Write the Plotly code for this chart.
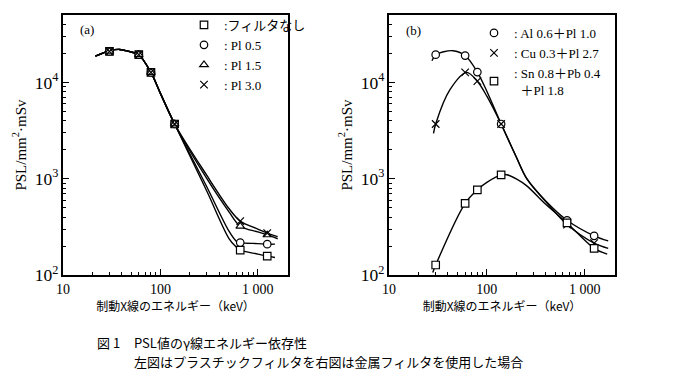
import plotly.graph_objects as go

W, H = 700, 388

# ---------------- Panel (a): plastic filters ----------------
a_energy = [30, 60, 80, 140, 660, 1250]
a_none = [21000, 19400, 12700, 3700, 181, 157]
a_pl05 = [21000, 19400, 12700, 3700, 217, 209]
a_pl15 = [21000, 19400, 12700, 3700, 321, 261]
a_pl30 = [21000, 19400, 12700, 3700, 363, 272]

# hand-drawn fitted curves
a_shared_ce = [21.5, 30, 38, 50, 60, 80, 100, 140]
a_shared_cv = [18700, 21300, 22000, 20700, 19400, 12700, 7700, 3700]
a_none_ce = [300, 506, 600, 660, 1000, 1250, 1500]
a_none_cv = [740, 239, 195, 181, 165, 157, 152]
a_pl05_ce = [300, 506, 600, 660, 1000, 1250, 1500]
a_pl05_cv = [820, 285, 225, 217, 212, 209, 209]
a_pl15_ce = [300, 506, 660, 1000, 1250, 1600]
a_pl15_cv = [1000, 453, 321, 280, 261, 238]
a_pl30_ce = [300, 506, 660, 1000, 1250, 1600]
a_pl30_cv = [1080, 490, 363, 300, 272, 250]

a_names = [":フィルタなし", ": Pl 0.5", ": Pl 1.5", ": Pl 3.0"]

# ---------------- Panel (b): metal filters ----------------
b_energy = [30, 60, 80, 140, 660, 1250]
b_al = [19400, 19000, 12800, 3700, 370, 255]
b_cu = [3700, 12700, 10300, 3700, 334, 214]
b_sn = [127, 555, 766, 1095, 347, 189]

b_al_ce = [27.5, 30, 45, 60, 80, 100, 140, 200, 256, 400, 660, 1250, 1740]
b_al_cv = [16800, 19400, 21350, 19000, 12800, 8100, 3700, 1680, 1000, 587, 370, 255, 226]
b_cu_ce = [28.5, 30, 42, 62, 80, 100, 140, 200, 256, 400, 660, 1250, 1740]
b_cu_cv = [2950, 3700, 8400, 12700, 10300, 7200, 3700, 1680, 1000, 578, 334, 214, 189]
b_sn_ce = [28, 30, 60, 80, 100, 140, 160, 200, 256, 400, 660, 1250, 1700]
b_sn_cv = [106, 127, 555, 766, 915, 1095, 1100, 995, 843, 542, 347, 189, 165]

b_names = [": Al 0.6＋Pl 1.0", ": Cu 0.3＋Pl 2.7", ": Sn 0.8＋Pb 0.4<br>  ＋Pl 1.8"]

SERIF = "Liberation Serif, Noto Sans CJK JP"
CJK = "Noto Sans CJK JP"

fig = go.Figure()

def curve(xs, ys, xa, ya):
    fig.add_trace(go.Scatter(x=xs, y=ys, mode="lines", xaxis=xa, yaxis=ya,
                             line=dict(color="black", width=1.4, shape="spline", smoothing=0.9),
                             showlegend=False, hoverinfo="skip"))

def marks(xs, ys, sym, name, xa, ya, legend):
    fig.add_trace(go.Scatter(x=xs, y=ys, mode="markers", xaxis=xa, yaxis=ya, name=name,
                             legend=legend,
                             marker=dict(symbol=sym, size=7.5, color="white",
                                         line=dict(color="black", width=1.2))))

# panel (a)
curve(a_shared_ce + a_none_ce, a_shared_cv + a_none_cv, "x", "y")
curve(a_shared_ce + a_pl05_ce, a_shared_cv + a_pl05_cv, "x", "y")
curve(a_shared_ce + a_pl15_ce, a_shared_cv + a_pl15_cv, "x", "y")
curve(a_shared_ce + a_pl30_ce, a_shared_cv + a_pl30_cv, "x", "y")
marks(a_energy, a_none, "square", a_names[0], "x", "y", "legend")
marks(a_energy, a_pl05, "circle", a_names[1], "x", "y", "legend")
marks(a_energy, a_pl15, "triangle-up", a_names[2], "x", "y", "legend")
marks(a_energy, a_pl30, "x-thin", a_names[3], "x", "y", "legend")

# panel (b)
curve(b_al_ce, b_al_cv, "x2", "y2")
curve(b_cu_ce, b_cu_cv, "x2", "y2")
curve(b_sn_ce, b_sn_cv, "x2", "y2")
marks(b_energy, b_al, "circle", b_names[0], "x2", "y2", "legend2")
marks(b_energy, b_cu, "x-thin", b_names[1], "x2", "y2", "legend2")
marks(b_energy, b_sn, "square", b_names[2], "x2", "y2", "legend2")

def px(v):
    return v / W

def py(v):
    return 1 - v / H

common_axis = dict(type="log", automargin=False,
                   showline=True, linecolor="black", linewidth=1.5, mirror=True,
                   ticks="inside", ticklen=6, tickwidth=1.2, tickcolor="black",
                   showgrid=False, zeroline=False,
                   tickmode="linear", tick0=0, dtick=1,
                   minor=dict(ticks="inside", ticklen=3, tickwidth=1, tickcolor="black",
                              showgrid=False, dtick="D1"),
                   tickfont=dict(family=SERIF, size=14, color="black"))

def xaxis(dom, anchor):
    return dict(range=[1, 3.31], domain=dom, anchor=anchor,
                separatethousands=True,
                title=dict(text="制動X線のエネルギー（keV）", font=dict(family=CJK, size=12, color="black"),
                           standoff=0),
                **common_axis)

def yaxis(anchor):
    return dict(range=[2, 4.7], domain=[py(275), py(15)], anchor=anchor,
                exponentformat="power", showexponent="all",
                title=dict(text="PSL/mm<sup>2</sup>·mSv", font=dict(family=SERIF, size=15, color="black"),
                           standoff=5),
                **common_axis)

leg_common = dict(xanchor="left", yanchor="top", bgcolor="rgba(0,0,0,0)",
                  font=dict(family=SERIF, size=13, color="black"), itemwidth=30,
                  tracegroupgap=0)

fig.update_layout(
    width=W, height=H,
    margin=dict(l=0, r=0, t=0, b=0),
    separators=". ",
    paper_bgcolor="white", plot_bgcolor="white",
    xaxis=xaxis([px(63), px(288)], "y"),
    yaxis=yaxis("x"),
    xaxis2=xaxis([px(389), px(615)], "y2"),
    yaxis2=yaxis("x2"),
    legend=dict(x=px(184), y=py(10), **leg_common),
    legend2=dict(x=px(474), y=py(18), **leg_common),
    showlegend=True,
    annotations=[
        dict(text="(a)", x=px(78), y=py(30), xref="paper", yref="paper", showarrow=False,
             xanchor="left", yanchor="middle", font=dict(family=SERIF, size=13, color="black")),
        dict(text="(b)", x=px(404), y=py(31), xref="paper", yref="paper", showarrow=False,
             xanchor="left", yanchor="middle", font=dict(family=SERIF, size=13, color="black")),
        dict(text="図 1", x=px(95), y=py(342), xref="paper", yref="paper", showarrow=False,
             xanchor="left", yanchor="middle", font=dict(family=CJK, size=13, color="black")),
        dict(text="PSL値のγ線エネルギー依存性", x=px(132), y=py(342), xref="paper", yref="paper",
             showarrow=False, xanchor="left", yanchor="middle",
             font=dict(family=CJK, size=13, color="black")),
        dict(text="左図はプラスチックフィルタを右図は金属フィルタを使用した場合", x=px(132), y=py(361),
             xref="paper", yref="paper", showarrow=False, xanchor="left", yanchor="middle",
             font=dict(family=CJK, size=13, color="black")),
    ],
)

fig.write_html("out.html", config={"displayModeBar": False},
               post_script="document.body.style.margin='0';")
